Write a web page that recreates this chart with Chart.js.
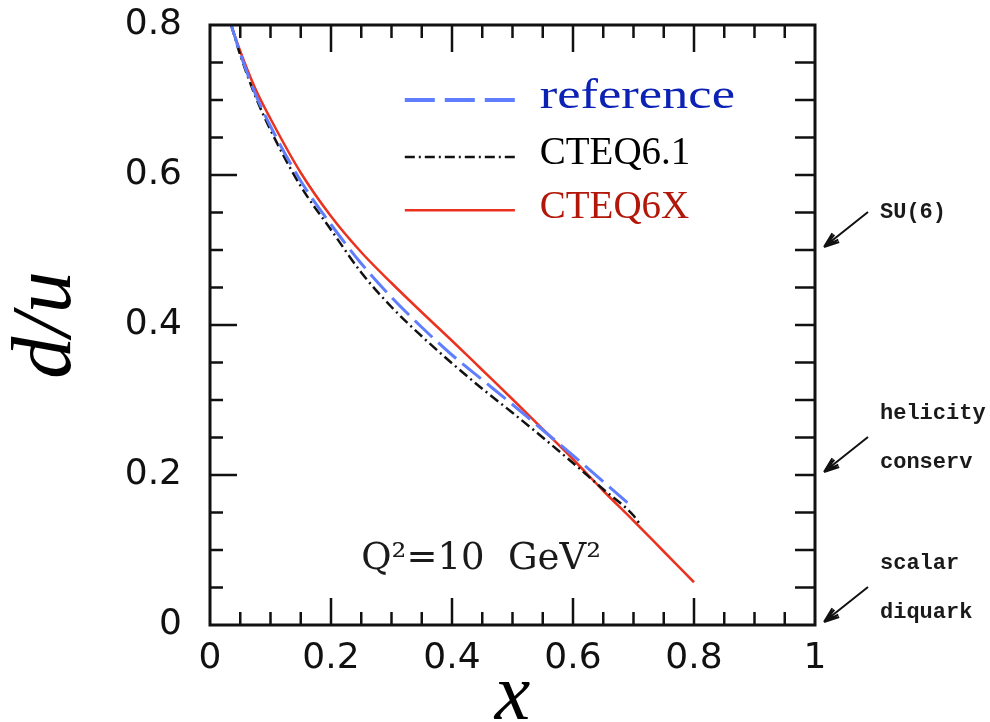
<!DOCTYPE html>
<html>
<head>
<meta charset="utf-8">
<script src="https://cdn.jsdelivr.net/npm/chart.js@4.4.1/dist/chart.umd.min.js"></script>
<style>
body { margin: 0; background: #fff; }
</style>
</head>
<body>
<canvas id="grafico" width="990" height="722"></canvas>
<script>
// valores
var xValores = [0.035, 0.05, 0.075, 0.1, 0.15, 0.2, 0.25, 0.3, 0.35, 0.4, 0.45, 0.5, 0.55, 0.6, 0.65, 0.7];
var referenceVals = [0.80, 0.762, 0.708, 0.665, 0.592, 0.534, 0.482, 0.437, 0.397, 0.360, 0.327, 0.294, 0.260, 0.226, 0.191, 0.156];
var xCteq61 = [0.035, 0.05, 0.075, 0.1, 0.15, 0.2, 0.25, 0.3, 0.35, 0.4, 0.45, 0.5, 0.55, 0.6, 0.65, 0.7, 0.71];
var cteq61Vals = [0.80, 0.760, 0.705, 0.660, 0.585, 0.527, 0.470, 0.424, 0.385, 0.349, 0.315, 0.283, 0.250, 0.216, 0.181, 0.146, 0.135];
var xCteq6x = [0.035, 0.05, 0.075, 0.1, 0.15, 0.2, 0.25, 0.3, 0.35, 0.4, 0.45, 0.5, 0.55, 0.6, 0.65, 0.7, 0.75, 0.8];
var cteq6xVals = [0.80, 0.765, 0.715, 0.675, 0.603, 0.545, 0.497, 0.456, 0.417, 0.379, 0.340, 0.301, 0.261, 0.221, 0.179, 0.139, 0.098, 0.057];

var xTicks = [0, 0.2, 0.4, 0.6, 0.8, 1];
var yTicks = [0, 0.2, 0.4, 0.6, 0.8];
var passoMenor = 0.05;

var legendaNomes = ['reference', 'CTEQ6.1', 'CTEQ6X'];
var anotacoes = [
    { valor: 0.5, linhas: ['SU(6)'] },
    { valor: 0.2, linhas: ['helicity', 'conserv'] },
    { valor: 0, linhas: ['scalar', 'diquark'] }
];

function pares(xs, ys) {
    var out = [];
    for (var i = 0; i < xs.length; i++) out.push({ x: xs[i], y: ys[i] });
    return out;
}

var estilos = [
    { cor: 'rgb(95, 125, 255)', dash: [24, 8], larg: 3, texto: '#0b22b4' },
    { cor: '#111', dash: [10, 4, 2, 4], larg: 2.5, texto: '#000' },
    { cor: 'rgb(235, 50, 30)', dash: [], larg: 2.5, texto: '#b3170a' }
];

// moldura, ticks internos, legenda e anotacoes
var moldura = {
    id: 'moldura',
    afterDatasetsDraw: function (chart) {
        var ctx = chart.ctx;
        var a = chart.chartArea;
        var xs = chart.scales.x, ys = chart.scales.y;
        ctx.save();
        ctx.strokeStyle = '#111';
        ctx.lineWidth = 3;
        ctx.strokeRect(a.left, a.top, a.right - a.left, a.bottom - a.top);

        ctx.lineWidth = 2.5;
        ctx.beginPath();
        for (var i = 1; i < 20; i++) {
            var v = i * passoMenor;
            var maior = (i % 4 === 0);
            var px = xs.getPixelForValue(v);
            var len = maior ? 27 : 13;
            ctx.moveTo(px, a.bottom); ctx.lineTo(px, a.bottom - len);
            ctx.moveTo(px, a.top); ctx.lineTo(px, a.top + len);
        }
        for (var j = 1; j < 16; j++) {
            var w = j * passoMenor;
            var py = ys.getPixelForValue(w);
            var maiorY = (j % 4 === 0);
            ctx.moveTo(a.left, py); ctx.lineTo(a.left + (maiorY ? 27 : 13), py);
            ctx.moveTo(a.right, py); ctx.lineTo(a.right - 20, py);
        }
        ctx.stroke();

        // legenda
        var lx0 = xs.getPixelForValue(0.322), lx1 = xs.getPixelForValue(0.504);
        var tx = xs.getPixelForValue(0.545);
        var linhasY = [0.70, 0.624, 0.553];
        ctx.textBaseline = 'middle';
        ctx.textAlign = 'left';
        for (var k = 0; k < legendaNomes.length; k++) {
            var ly = ys.getPixelForValue(linhasY[k]);
            var e = estilos[k];
            ctx.strokeStyle = e.cor;
            ctx.lineWidth = k === 0 ? 4 : e.larg;
            ctx.setLineDash(k === 0 ? [30, 10] : e.dash);
            ctx.beginPath();
            ctx.moveTo(lx0, ly); ctx.lineTo(lx1, ly);
            ctx.stroke();
            ctx.setLineDash([]);
            ctx.fillStyle = e.texto;
            ctx.font = (k === 0 ? '42px' : '39px') + ' "Liberation Serif"';
            ctx.save();
            ctx.translate(tx, ly - 3);
            if (k === 0) ctx.scale(1.25, 1);
            ctx.fillText(legendaNomes[k], 0, 0);
            ctx.restore();
        }

        // Q^2
        ctx.fillStyle = '#1a1a1a';
        ctx.font = '37px "DejaVu Serif"';
        ctx.fillText('Q\u00B2=10  GeV\u00B2', xs.getPixelForValue(0.25), ys.getPixelForValue(0.087));

        // setas a direita
        ctx.font = 'bold 22px "Liberation Mono"';
        ctx.strokeStyle = '#111';
        ctx.lineWidth = 2;
        anotacoes.forEach(function (an) {
            var ty = ys.getPixelForValue(an.valor);
            var tipX = a.right + 9, tipY = ty - 3;
            var caudaX = tipX + 44, caudaY = tipY - 35;
            ctx.beginPath();
            ctx.moveTo(caudaX, caudaY); ctx.lineTo(tipX, tipY);
            var ang = Math.atan2(caudaY - tipY, caudaX - tipX);
            [0.35, -0.35, 0.2, -0.2].forEach(function (d) {
                ctx.moveTo(tipX, tipY);
                ctx.lineTo(tipX + 16 * Math.cos(ang + d), tipY + 16 * Math.sin(ang + d));
            });
            ctx.stroke();
            ctx.fillStyle = '#1a1a1a';
            if (an.linhas.length === 1) {
                ctx.fillText(an.linhas[0], a.right + 65, ty - 38);
            } else {
                ctx.fillText(an.linhas[0], a.right + 65, ty - 62);
                ctx.fillText(an.linhas[1], a.right + 65, ty - 13);
            }
        });
        ctx.restore();
    }
};

var ctx = document.getElementById('grafico').getContext('2d');

var fonteTicks = { family: 'DejaVu Sans', size: 36 };

var grafico = new Chart(ctx, {
    type: 'scatter',
    data: {
        datasets: [
            { label: legendaNomes[0], data: pares(xValores, referenceVals), showLine: true, borderColor: estilos[0].cor, borderDash: estilos[0].dash, borderWidth: estilos[0].larg, pointRadius: 0, cubicInterpolationMode: 'monotone' },
            { label: legendaNomes[1], data: pares(xCteq61, cteq61Vals), showLine: true, borderColor: estilos[1].cor, borderDash: estilos[1].dash, borderWidth: estilos[1].larg, pointRadius: 0, cubicInterpolationMode: 'monotone' },
            { label: legendaNomes[2], data: pares(xCteq6x, cteq6xVals), showLine: true, borderColor: estilos[2].cor, borderDash: estilos[2].dash, borderWidth: estilos[2].larg, pointRadius: 0, cubicInterpolationMode: 'monotone' }
        ]
    },
    options: {
        responsive: false,
        animation: false,
        layout: { padding: { left: 0, right: 175, top: 25, bottom: 0 } },
        plugins: { legend: { display: false }, tooltip: { enabled: false } },
        scales: {
            x: {
                type: 'linear', min: 0, max: 1,
                afterFit: function (s) { s.height = 97; s.paddingLeft = 0; s.paddingRight = 0; },
                afterBuildTicks: function (s) { s.ticks = xTicks.map(function (v) { return { value: v }; }); },
                grid: { display: false }, border: { display: false },
                ticks: { font: fonteTicks, color: '#111', padding: 4, maxRotation: 0, autoSkip: false,
                    callback: function (v) { return String(Number(v)); } },
                title: { display: true, text: 'x', font: { family: 'Liberation Serif', style: 'italic', size: 80, lineHeight: 0.6 }, color: '#000', padding: { top: 0, bottom: 0 } }
            },
            y: {
                type: 'linear', min: 0, max: 0.8,
                afterFit: function (s) { s.width = 210; s.paddingTop = 0; s.paddingBottom = 0; },
                afterBuildTicks: function (s) { s.ticks = yTicks.map(function (v) { return { value: v }; }); },
                grid: { display: false }, border: { display: false },
                ticks: { font: fonteTicks, color: '#111', padding: 20,
                    callback: function (v) { return String(Number(v)); } },
                title: { display: true, text: 'd/u', font: { family: 'Liberation Serif', style: 'italic', size: 84, lineHeight: 1 }, color: '#000', padding: { top: 6, bottom: 0 } }
            }
        }
    },
    plugins: [moldura]
});
</script>
</body>
</html>
